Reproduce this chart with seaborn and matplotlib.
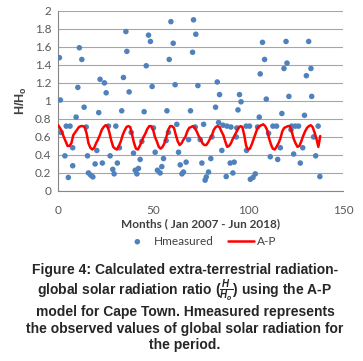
import numpy as np
import pandas as pd
import matplotlib
matplotlib.use("Agg")
import matplotlib.pyplot as plt
import seaborn as sns

# Hmeasured scatter (month index, H/Ho)
hm_month = [0.7, 1.2, 1.6, 3.6, 4.3, 5.4, 6.3, 7.7, 7.7, 9.5, 10.4, 11.2, 12.5,
            13.7, 14.8, 15.5, 16.0, 17.2, 18.3, 19.5, 20.4, 21.4, 22.1, 23.3, 24.4,
            25.3, 26.5, 27.4, 28.8, 29.5, 30.4, 31.2, 32.3, 33.5, 34.4, 35.7, 36.2,
            37.4, 38.5, 39.7, 40.6, 41.5, 42.3, 43.2, 44.1, 45.3, 46.4, 47.6, 48.6,
            49.5, 50.2, 51.1, 52.3, 53.7, 54.6, 55.5, 56.9, 57.3, 58.1, 58.5, 59.4,
            60.6, 61.6, 62.5, 63.4, 64.3, 65.2, 66.0, 67.4, 68.7, 69.7, 70.8, 71.3,
            72.2, 72.5, 73.6, 74.8, 75.7, 76.6, 77.4, 78.0, 79.2, 80.4, 81.0, 82.9,
            83.8, 84.5, 85.0, 86.2, 86.8, 88.5, 88.9, 90.6, 91.0, 92.0, 92.7, 93.8,
            94.1, 94.7, 95.5, 96.3, 99.0, 99.2, 100.8, 101.2, 102.6, 103.8, 105.0,
            105.9, 106.4, 107.6, 108.7, 109.6, 110.8, 111.7, 113.1, 115.0, 115.6,
            117.0, 117.8, 118.9, 120.0, 120.5, 121.5, 122.6, 123.0, 124.0, 124.9,
            126.6, 127.5, 128.8, 129.7, 130.7, 131.9, 133.1, 133.5, 134.5, 135.6,
            136.9, 137.8]
hm_ratio = [1.48, 1.01, 0.65, 0.39, 0.72, 0.15, 0.72, 0.48, 0.28, 0.82, 1.15, 1.59, 1.46,
            0.93, 0.71, 0.39, 0.20, 0.175, 0.156, 0.30, 0.45, 0.87, 1.24, 0.31, 1.20,
            1.09, 0.72, 0.39, 0.24, 0.19, 0.72, 0.31, 0.48, 0.89, 1.26, 1.77, 1.55,
            1.10, 0.65, 0.42, 0.23, 0.19, 0.25, 0.35, 0.55, 0.88, 1.39, 1.73, 1.66,
            1.16, 0.70, 0.43, 0.23, 0.20, 0.27, 0.36, 0.56, 0.89, 0.65, 1.46, 1.88,
            1.64, 1.18, 0.74, 0.43, 0.29, 0.19, 0.21, 0.32, 0.57, 0.89, 1.54, 1.90,
            0.71, 1.74, 1.17, 0.57, 0.31, 0.74, 0.12, 0.156, 0.21, 0.36, 0.60, 0.93,
            1.21, 0.76, 1.07, 0.45, 0.73, 0.16, 0.72, 0.31, 0.71, 0.20, 0.32, 0.60,
            0.70, 0.90, 1.07, 0.99, 0.72, 0.45, 0.72, 0.13, 0.15, 0.19, 0.71,
            0.82, 1.30, 1.65, 1.46, 1.02, 0.64, 0.38, 0.72, 0.72, 0.35,
            0.48, 0.86, 1.36, 1.66, 1.42, 1.05, 0.68, 0.72, 0.41, 0.72,
            0.72, 0.31, 0.48, 0.84, 1.28, 1.66, 1.36, 1.05, 0.60, 0.39,
            0.72, 0.16]

# A-P model, one value per month (0 .. 138)
ap_ratio = [0.73, 0.70, 0.66, 0.60, 0.55, 0.50, 0.50, 0.53, 0.62, 0.65, 0.68, 0.71,
            0.72, 0.72, 0.71, 0.64, 0.53, 0.48, 0.46, 0.48, 0.53, 0.57, 0.62, 0.68,
            0.71, 0.73, 0.72, 0.65, 0.56, 0.49, 0.47, 0.46, 0.50, 0.55, 0.62, 0.67,
            0.71, 0.72, 0.71, 0.62, 0.53, 0.47, 0.46, 0.50, 0.55, 0.60, 0.64, 0.69,
            0.72, 0.72, 0.68, 0.60, 0.55, 0.49, 0.47, 0.49, 0.53, 0.60, 0.68, 0.72,
            0.72, 0.70, 0.62, 0.55, 0.51, 0.53, 0.57, 0.60, 0.66, 0.70, 0.71, 0.72,
            0.70, 0.66, 0.61, 0.58, 0.53, 0.51, 0.51, 0.54, 0.58, 0.62, 0.68, 0.71,
            0.72, 0.71, 0.66, 0.62, 0.55, 0.49, 0.50, 0.53, 0.58, 0.62, 0.66, 0.70,
            0.72, 0.71, 0.62, 0.50, 0.46, 0.47, 0.52, 0.58, 0.64, 0.70, 0.72, 0.73,
            0.74, 0.72, 0.68, 0.59, 0.52, 0.47, 0.46, 0.49, 0.53, 0.58, 0.66, 0.70,
            0.71, 0.72, 0.72, 0.66, 0.58, 0.53, 0.49, 0.50, 0.55, 0.61, 0.66, 0.70,
            0.72, 0.73, 0.71, 0.65, 0.58, 0.49, 0.61]
ap_month = list(range(len(ap_ratio)))

caption = [
    "Figure 4: Calculated extra-terrestrial radiation-",
    r"global solar radiation ratio ($\frac{H}{H_o}$) using the A-P",
    "model for Cape Town. Hmeasured represents",
    "the observed values of global solar radiation for",
    "the period.",
]

sns.set_style("white")
plt.rcParams['font.family'] = ['Lato', 'DejaVu Sans']
plt.rcParams['mathtext.fontset'] = 'custom'
plt.rcParams['mathtext.it'] = 'Liberation Sans:italic:bold'
plt.rcParams['mathtext.rm'] = 'Liberation Sans:bold'
plt.rcParams['mathtext.bf'] = 'Liberation Sans:bold'

df_hm = pd.DataFrame({'Month': hm_month, 'Ratio': hm_ratio})
df_ap = pd.DataFrame({'Month': ap_month, 'Ratio': ap_ratio})

fig = plt.figure(figsize=(3.63, 3.61), dpi=100)
ax = fig.add_axes([0.160, 0.471, 0.785, 0.499])

ax.yaxis.grid(True, color='#a6a6a6', linewidth=0.8)
ax.set_axisbelow(True)

sns.scatterplot(data=df_hm, x='Month', y='Ratio', ax=ax, color='#4f81bd',
                s=16, edgecolor='none', label='Hmeasured', zorder=3)
sns.lineplot(data=df_ap, x='Month', y='Ratio', ax=ax, color='#ff0000',
             linewidth=1.8, label='A-P', zorder=4)

ax.set_xlim(0, 150)
ax.set_ylim(0, 2)
ax.set_xticks([0, 50, 100, 150])
ax.set_yticks(np.arange(0, 2.01, 0.2))
ax.set_yticklabels(['0', '0.2', '0.4', '0.6', '0.8', '1', '1.2', '1.4', '1.6', '1.8', '2'])
ax.tick_params(axis='both', labelsize=8.5, colors='#595959', length=3, width=0.8)
ax.tick_params(axis='x', pad=7)
ax.tick_params(axis='y', pad=2)

for side in ['top', 'right']:
    ax.spines[side].set_visible(False)
for side in ['left', 'bottom']:
    ax.spines[side].set_color('#868686')
    ax.spines[side].set_linewidth(0.8)

ax.set_xlabel('Months ( Jan 2007 - Jun 2018)', fontsize=8.5, fontweight='bold',
              color='#404040', labelpad=2)
ax.set_ylabel(r'$\mathbf{H/H_o}$', fontsize=9, color='#404040', labelpad=4)

ax.legend(loc='upper center', bbox_to_anchor=(0.5, -0.19), ncol=2, frameon=False,
          fontsize=8.5, handlelength=2.2, columnspacing=1.2, handletextpad=0.3,
          labelcolor='#404040')

ys = [0.252, 0.195, 0.136, 0.089, 0.044]
for line, y in zip(caption, ys):
    fig.text(0.51, y, line, ha='center', va='center', fontsize=10,
             fontweight='bold', family=['Liberation Sans', 'DejaVu Sans'])

fig.savefig('out.png', dpi=100)
